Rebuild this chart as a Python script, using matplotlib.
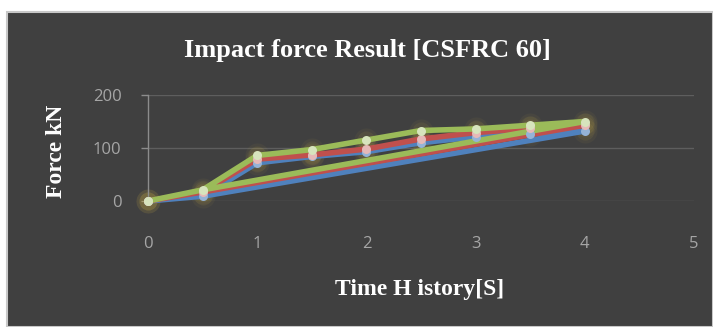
import matplotlib.pyplot as plt
from matplotlib.patches import Rectangle

# time points (the series run out to 4 s and close back to 0.5 s)
time_s = [0, 0.5, 1, 1.5, 2, 2.5, 3, 3.5, 4, 0.5]
force_blue = [0, 9, 72, 84, 93, 110, 121, 127, 132, 9]
force_red = [0, 17, 79, 87, 98, 117, 129, 137, 143, 17]
force_green = [0, 21, 86, 97, 115, 133, 136, 143, 150, 21]

x_ticks = [0, 1, 2, 3, 4, 5]
y_ticks = [0, 100, 200]

series = [
    (force_blue, "#4F81BD", "#95B3D7"),
    (force_red, "#C0504D", "#E6B9B8"),
    (force_green, "#9BBB59", "#D7E4BD"),
]

fig = plt.figure(figsize=(7.13, 3.27), dpi=100)
fig.patch.set_facecolor("white")
fig.patches.append(Rectangle((7 / 713, 0), 706 / 713, 315 / 327,
                             transform=fig.transFigure, facecolor="#404040",
                             edgecolor="#C8C8C8", lw=1.5, zorder=-1))

ax = fig.add_axes([148 / 713, 126 / 327, 546 / 713, 106 / 327])
ax.set_zorder(2)
ax.set_facecolor("none")
ax.set_xlim(0, 5)
ax.set_ylim(0, 200)

for s in ax.spines.values():
    s.set_visible(False)
ax.spines["left"].set_visible(True)
ax.spines["left"].set_color("#8C8C8C")
ax.spines["left"].set_linewidth(1)

for y in y_ticks:
    ax.axhline(y, color="#5E5E5E", lw=1, zorder=1)

for vals, col, mcol in series:
    # soft glow
    for size, a in [(300, 0.05), (170, 0.08)]:
        ax.scatter(time_s[:-1], vals[:-1], s=size, color="#E0C040", alpha=a,
                   lw=0, zorder=2, clip_on=False)
    ax.plot(time_s, vals, color=col, lw=4, solid_joinstyle="round",
            solid_capstyle="round", zorder=3, clip_on=False)
for vals, col, mcol in series:
    ax.scatter(time_s[:-1], vals[:-1], s=42, color=mcol, lw=0, zorder=4,
               clip_on=False)

ax.set_xticks(x_ticks)
ax.set_yticks(y_ticks)
ax.tick_params(axis="x", length=0, pad=25, labelsize=12, labelcolor="#A6A6A6")
ax.tick_params(axis="y", length=5, width=1, color="#8C8C8C", pad=14,
               labelsize=12, labelcolor="#A6A6A6")
for lab in ax.get_xticklabels() + ax.get_yticklabels():
    lab.set_family("Open Sans")

fig.text(367 / 713, 1 - 50 / 327, "Impact force Result [CSFRC 60]",
         family="Liberation Serif", weight="bold", fontsize=19, color="white",
         ha="center", va="center")
fig.text(420 / 713, 1 - 290 / 327, "Time H istory[S]",
         family="Liberation Serif", weight="bold", fontsize=17, color="white",
         ha="center", va="center")
fig.text(56 / 713, 1 - 151 / 327, "Force kN", rotation=90,
         family="Liberation Serif", weight="bold", fontsize=17, color="white",
         ha="center", va="center")

fig.savefig("out.png", dpi=100, facecolor=fig.get_facecolor())
